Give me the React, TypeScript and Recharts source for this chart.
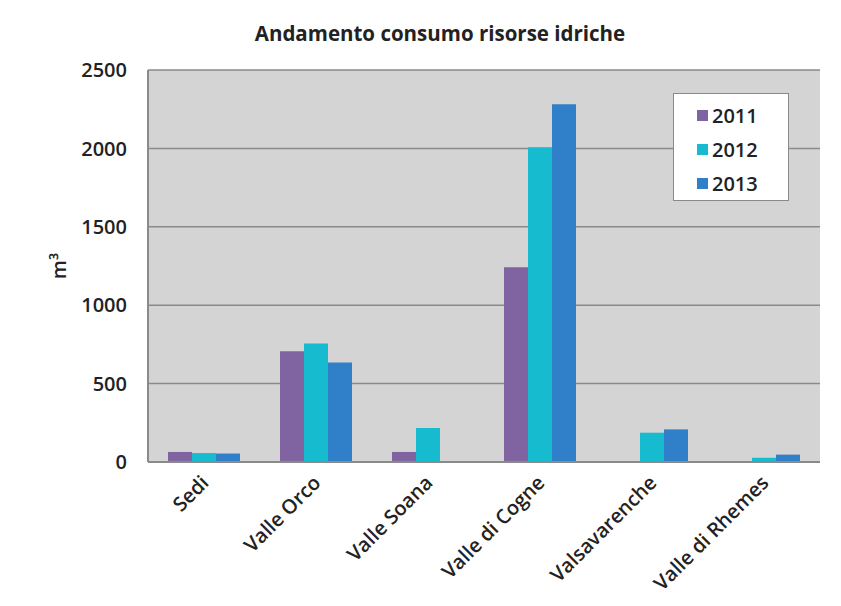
import { BarChart, Bar, XAxis, YAxis, CartesianGrid } from "recharts";

const categories = ["Sedi", "Valle Orco", "Valle Soana", "Valle di Cogne", "Valsavarenche", "Valle di Rhemes"];
const y2011 = [64, 706, 64, 1242, 0, 3];
const y2012 = [57, 755, 217, 2007, 187, 27];
const y2013 = [54, 634, 0, 2281, 208, 47];
const yTicks = [0, 500, 1000, 1500, 2000, 2500];

const series = [
  { key: "2011", color: "#8064A2" },
  { key: "2012", color: "#17BBD0" },
  { key: "2013", color: "#2F80C8" },
];

const data = categories.map((name, i) => ({
  name,
  "2011": y2011[i],
  "2012": y2012[i],
  "2013": y2013[i],
}));

const FONT = "'Open Sans', 'DejaVu Sans', sans-serif";

// rotated category labels, text ends at the tick
function CategoryTick({ x, y, payload }: any) {
  return (
    <text
      x={x + 6}
      y={y + 14}
      transform={`rotate(-45, ${x + 6}, ${y + 14})`}
      textAnchor="end"
      fontSize={20}
      fontWeight={600}
      fontFamily={FONT}
      fill="#222"
    >
      {payload.value}
    </text>
  );
}

function LegendBox() {
  return (
    <div
      style={{
        position: "absolute",
        top: 93,
        left: 673,
        width: 116,
        height: 108,
        background: "#fff",
        border: "1px solid #8a8a8a",
        boxSizing: "border-box",
        paddingTop: 4,
        fontFamily: FONT,
      }}
    >
      {series.map((s) => (
        <div key={s.key} style={{ display: "flex", alignItems: "center", height: 34, paddingLeft: 23 }}>
          <span style={{ width: 11, height: 11, background: s.color, marginRight: 4 }} />
          <span style={{ fontSize: 20, fontWeight: 600, color: "#222" }}>{s.key}</span>
        </div>
      ))}
    </div>
  );
}

export default function App() {
  return (
    <div style={{ position: "absolute", left: 0, top: 0, width: 841, height: 606, background: "#fff" }}>
      <div
        style={{
          position: "absolute",
          top: 19,
          left: 0,
          width: 880,
          textAlign: "center",
          fontFamily: FONT,
          fontWeight: 700,
          fontSize: 20.5,
          color: "#222",
        }}
      >
        Andamento consumo risorse idriche
      </div>
      <BarChart
        width={841}
        height={606}
        data={data}
        margin={{ top: 70, right: 21, bottom: 0, left: 78 }}
        barCategoryGap={20}
        barGap={0}
      >
        <CartesianGrid vertical={false} stroke="#8a8a8a" strokeWidth={1.5} fill="#d4d4d4" />
        <XAxis
          dataKey="name"
          height={144}
          interval={0}
          tickLine={false}
          axisLine={{ stroke: "#8a8a8a", strokeWidth: 2 }}
          tick={<CategoryTick />}
        />
        <XAxis xAxisId="top" orientation="top" height={0} tick={false} tickLine={false} axisLine={{ stroke: "#8a8a8a", strokeWidth: 2 }} />
        <YAxis
          width={70}
          domain={[0, 2500]}
          ticks={yTicks}
          interval={0}
          tickLine={false}
          tickSize={0}
          tickMargin={21}
          axisLine={{ stroke: "#8a8a8a", strokeWidth: 2 }}
          tick={{ fontSize: 20, fontFamily: FONT, fill: "#222", fontWeight: 600 }}
          label={{
            value: "m³",
            angle: -90,
            position: "insideLeft",
            offset: -19,
            style: { fontSize: 20, fontFamily: FONT, fill: "#222", fontWeight: 600, textAnchor: "middle" },
          }}
        />
        <YAxis yAxisId="right" orientation="right" width={0} tick={false} tickLine={false} axisLine={{ stroke: "#8a8a8a", strokeWidth: 2 }} />
        {series.map((s) => (
          <Bar key={s.key} dataKey={s.key} fill={s.color} isAnimationActive={false} />
        ))}
      </BarChart>
      <LegendBox />
    </div>
  );
}
